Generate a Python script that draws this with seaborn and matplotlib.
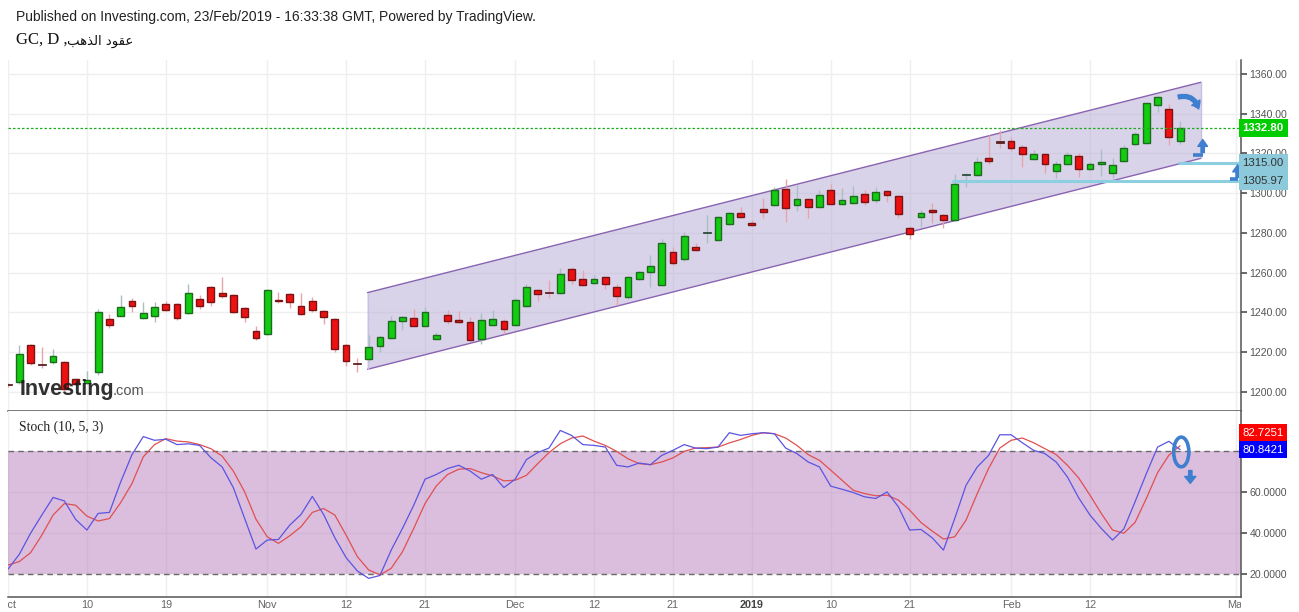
import numpy as np
import pandas as pd
import matplotlib
matplotlib.use("Agg")
import matplotlib.pyplot as plt
import matplotlib.transforms as mtransforms
from matplotlib.patches import Ellipse, FancyArrowPatch
import seaborn as sns

# ---- data (daily gold futures, GC) ----
bar_idx = list(range(105))

opens = [1203.6, 1205.0, 1223.4, 1214.0, 1215.1, 1214.8, 1206.3, 1204.3, 1210.0, 1236.5,
         1238.3, 1245.5, 1237.0, 1238.3, 1244.0, 1244.0, 1239.5, 1246.5, 1252.6, 1249.6,
         1248.6, 1242.0, 1230.4, 1229.0, 1246.2, 1249.0, 1243.3, 1245.5, 1240.5, 1236.6,
         1223.5, 1214.3, 1216.4, 1222.9, 1227.0, 1235.5, 1237.0, 1233.3, 1226.7, 1238.5,
         1236.1, 1235.0, 1226.7, 1233.5, 1235.5, 1233.5, 1243.0, 1251.0, 1250.2, 1249.6,
         1261.7, 1256.6, 1254.6, 1257.6, 1252.6, 1247.5, 1256.6, 1260.2, 1253.6, 1270.2,
         1266.7, 1272.7, 1279.9, 1276.3, 1284.3, 1289.9, 1284.8, 1291.9, 1293.9, 1301.9,
         1293.9, 1296.9, 1292.9, 1301.4, 1294.4, 1294.9, 1299.4, 1296.4, 1300.9, 1298.4,
         1282.3, 1287.8, 1291.4, 1288.9, 1286.3, 1309.2, 1309.0, 1317.6, 1325.8, 1326.1,
         1323.1, 1317.1, 1319.6, 1311.0, 1314.5, 1318.6, 1312.0, 1314.5, 1310.0, 1316.1,
         1324.6, 1325.1, 1344.2, 1342.2, 1326.1]
highs = [1204.5, 1223.5, 1224.0, 1222.5, 1221.5, 1215.5, 1207.0, 1210.4, 1241.7, 1239.0,
         1248.7, 1247.1, 1245.2, 1245.2, 1245.7, 1244.5, 1254.3, 1248.7, 1253.0, 1257.6,
         1249.0, 1242.5, 1233.0, 1251.7, 1250.0, 1249.5, 1249.7, 1247.7, 1241.0, 1237.0,
         1224.0, 1216.8, 1228.6, 1228.0, 1238.1, 1238.0, 1241.7, 1242.8, 1230.0, 1241.2,
         1240.7, 1237.8, 1239.5, 1241.2, 1236.5, 1247.0, 1254.0, 1251.5, 1256.0, 1262.2,
         1263.0, 1261.3, 1259.0, 1258.0, 1254.0, 1258.5, 1261.0, 1268.9, 1276.9, 1272.7,
         1280.4, 1274.8, 1289.0, 1288.3, 1290.5, 1292.9, 1286.5, 1297.4, 1303.1, 1307.1,
         1304.0, 1297.5, 1301.4, 1304.4, 1302.4, 1303.6, 1301.5, 1303.0, 1301.5, 1299.0,
         1283.5, 1291.4, 1295.0, 1289.5, 1309.5, 1310.3, 1318.0, 1329.3, 1331.8, 1328.4,
         1324.0, 1321.5, 1320.0, 1316.0, 1320.5, 1320.0, 1315.5, 1322.2, 1317.5, 1324.0,
         1331.0, 1345.5, 1349.5, 1344.9, 1336.2]
lows = [1202.5, 1204.0, 1213.5, 1212.0, 1214.0, 1200.5, 1203.5, 1204.0, 1208.4, 1232.3,
        1238.0, 1240.0, 1236.5, 1235.0, 1240.5, 1236.3, 1239.0, 1241.8, 1243.3, 1247.4,
        1239.5, 1235.0, 1226.2, 1228.5, 1244.9, 1242.0, 1238.8, 1240.3, 1234.3, 1220.2,
        1213.1, 1210.1, 1215.5, 1220.2, 1226.5, 1231.1, 1233.0, 1233.0, 1226.3, 1234.0,
        1234.8, 1225.5, 1224.0, 1233.0, 1229.0, 1233.0, 1242.5, 1245.7, 1247.0, 1249.0,
        1254.0, 1253.0, 1254.0, 1251.6, 1243.5, 1246.6, 1256.0, 1252.7, 1253.0, 1264.0,
        1266.0, 1270.8, 1274.8, 1276.0, 1284.0, 1287.5, 1283.5, 1287.6, 1293.5, 1285.3,
        1291.2, 1287.3, 1292.5, 1294.0, 1294.0, 1294.5, 1293.9, 1294.9, 1295.4, 1287.3,
        1276.8, 1282.8, 1284.8, 1282.3, 1286.0, 1303.3, 1308.5, 1314.5, 1322.9, 1321.4,
        1313.3, 1316.5, 1310.3, 1307.5, 1314.0, 1308.0, 1311.5, 1308.8, 1307.5, 1315.5,
        1324.0, 1324.8, 1340.7, 1324.1, 1324.6]
closes = [1203.3, 1219.0, 1214.6, 1213.5, 1217.9, 1201.5, 1203.8, 1205.8, 1240.0, 1233.8,
          1242.5, 1243.0, 1239.5, 1242.5, 1241.0, 1237.0, 1249.6, 1243.3, 1245.0, 1248.4,
          1240.0, 1237.8, 1227.0, 1251.0, 1245.5, 1245.0, 1239.0, 1241.0, 1237.8, 1221.4,
          1215.6, 1213.9, 1222.4, 1227.4, 1235.5, 1237.5, 1233.3, 1240.0, 1228.4, 1235.5,
          1235.0, 1226.0, 1236.0, 1236.5, 1231.8, 1246.0, 1252.6, 1249.0, 1249.9, 1259.1,
          1256.1, 1253.6, 1256.6, 1254.0, 1248.0, 1258.0, 1260.2, 1263.2, 1274.8, 1264.7,
          1278.3, 1271.2, 1280.1, 1287.8, 1289.9, 1287.8, 1283.8, 1290.7, 1301.4, 1292.4,
          1296.9, 1292.9, 1298.9, 1294.4, 1296.4, 1298.4, 1295.4, 1300.4, 1298.9, 1289.4,
          1279.3, 1289.9, 1290.4, 1286.3, 1304.4, 1309.5, 1315.5, 1316.1, 1325.5, 1322.6,
          1319.6, 1319.6, 1314.5, 1314.5, 1319.1, 1312.0, 1314.5, 1315.5, 1314.0, 1322.6,
          1329.6, 1345.2, 1348.3, 1328.1, 1332.8]

stoch_k = [22.5, 29.7, 40.0, 48.9, 57.5, 55.8, 46.8, 41.6, 49.7, 50.2,
           65.1, 78.4, 87.2, 85.4, 85.9, 83.3, 83.7, 82.9, 76.9, 72.4,
           62.2, 47.2, 32.3, 36.7, 37.0, 44.0, 49.2, 58.0, 49.2, 37.8,
           28.1, 21.6, 18.0, 19.4, 31.8, 42.4, 53.7, 66.4, 68.7, 71.6,
           73.2, 70.4, 66.4, 68.7, 62.3, 66.4, 76.0, 79.4, 81.6, 90.2,
           87.8, 83.3, 82.9, 82.1, 73.2, 72.4, 74.3, 73.5, 78.0, 80.5,
           83.3, 81.6, 81.3, 82.1, 89.1, 87.8, 88.6, 89.1, 88.6, 81.6,
           78.9, 74.8, 72.4, 63.0, 61.5, 59.9, 57.8, 57.0, 60.2, 52.9,
           41.6, 41.9, 37.8, 31.8, 47.2, 63.4, 72.4, 78.0, 88.1, 88.1,
           84.2, 80.5, 78.9, 74.8, 67.5, 57.3, 48.9, 42.4, 36.7, 42.1,
           55.4, 69.1, 82.1, 84.9, 80.8421]
stoch_d = [24.5, 26.2, 30.5, 39.1, 48.9, 54.5, 53.7, 48.4, 46.0, 47.2,
           55.0, 64.3, 77.3, 83.3, 86.2, 85.0, 84.6, 83.3, 81.3, 77.7,
           70.3, 60.2, 46.9, 38.3, 35.1, 38.8, 43.2, 50.2, 52.1, 48.9,
           39.1, 28.6, 22.1, 19.7, 22.9, 31.0, 42.4, 54.5, 63.1, 68.7,
           71.3, 71.6, 69.6, 68.0, 65.6, 65.9, 68.3, 74.0, 79.4, 83.7,
           86.5, 87.5, 85.0, 82.9, 80.0, 76.4, 74.0, 73.5, 74.8, 76.8,
           80.0, 81.6, 81.8, 82.1, 84.1, 85.8, 87.8, 89.1, 88.6, 86.5,
           82.9, 78.4, 75.6, 70.8, 65.9, 61.0, 59.4, 58.3, 58.6, 56.2,
           51.3, 45.3, 41.1, 37.2, 38.3, 46.4, 59.4, 71.6, 81.6, 85.4,
           86.5, 84.2, 81.3, 78.4, 73.2, 67.0, 58.6, 49.7, 41.6, 40.0,
           45.3, 57.0, 69.6, 78.1, 82.7251]

# date ticks as bar numbers
tick_pos = [0, 7, 14, 23, 30, 37, 45, 52, 59, 66, 73, 80, 89, 96, 109]
tick_labels = ["Oct", "10", "19", "Nov", "12", "21", "Dec", "12", "21", "2019",
               "10", "21", "Feb", "12", "Mar"]

# drawn channel and support levels
channel_x = [31.9, 105.85]
channel_upper = [1249.9, 1355.8]
channel_lower = [1211.3, 1317.5]
levels = [1315.00, 1305.97]
level_start = [103.8, 83.8]

df = pd.DataFrame({"bar": bar_idx, "open": opens, "high": highs, "low": lows,
                   "close": closes, "k": stoch_k, "d": stoch_d})

# ---- style ----
sns.set_theme(style="white")
plt.rcParams["font.family"] = ["Liberation Sans", "DejaVu Sans"]

W, H = 1299, 612
fig = plt.figure(figsize=(W / 100, H / 100), dpi=100)
left, right = 8 / W, 1241 / W
ax1 = fig.add_axes([left, 1 - 411 / H, right - left, (411 - 60) / H])
ax2 = fig.add_axes([left, 1 - 597 / H, right - left, (597 - 411) / H], sharex=ax1)

grid_c = "#efefef"
axis_c = "#555555"
for ax in (ax1, ax2):
    ax.set_facecolor("white")
    for s in ("top", "left"):
        ax.spines[s].set_visible(False)
    for s in ("right", "bottom"):
        ax.spines[s].set_color(axis_c)
        ax.spines[s].set_linewidth(1.1)
    ax.yaxis.tick_right()
    ax.set_xticks(tick_pos)
    ax.grid(True, color=grid_c, lw=1)
    ax.set_axisbelow(True)

ax1.set_xlim(0.18, 109.4)
ax1.set_ylim(1190.3, 1367.0)
ax2.set_ylim(8.9, 99.7)

# ---- channel ----
ax1.fill([channel_x[0], channel_x[1], channel_x[1], channel_x[0]],
         [channel_lower[0], channel_lower[1], channel_upper[1], channel_upper[0]],
         fc="#b5a9d5", alpha=0.5, ec="none", zorder=1)
ax1.plot(channel_x, channel_upper, color="#8a63b0", lw=1, zorder=2)
ax1.plot(channel_x, channel_lower, color="#8a63b0", lw=1, zorder=2)
for i in range(2):
    ax1.plot([channel_x[i], channel_x[i]], [channel_lower[i], channel_upper[i]],
             color="#c9bfe0", lw=1, zorder=2)

# ---- candles ----
up = df[df["close"] >= df["open"]]
dn = df[df["close"] < df["open"]]
ax1.vlines(up["bar"], up["low"], up["high"], color="#a9bfc2", lw=1, zorder=3)
ax1.vlines(dn["bar"], dn["low"], dn["high"], color="#e8a4aa", lw=1, zorder=3)

for sub, fc, ec, dark in ((up, "#11cc11", "#1d6b1d", "#2f4f3f"),
                          (dn, "#ee1111", "#7a1414", "#5b2323")):
    body = (sub["close"] - sub["open"]).abs()
    doji = body < 0.6
    bottom = sub[["open", "close"]].min(axis=1)
    norm = sub[~doji]
    ax1.bar(norm["bar"], body[~doji], bottom=bottom[~doji], width=0.6,
            color=fc, edgecolor=ec, linewidth=1, zorder=4)
    dj = sub[doji]
    ax1.bar(dj["bar"], 0.6, bottom=bottom[doji] - 0.1, width=0.7,
            color=dark, edgecolor=dark, linewidth=0.6, zorder=4)

# ---- horizontal levels ----
last_close = closes[-1]
ax1.axhline(last_close, color="#1faa1f", ls=(0, (2, 1.6)), lw=0.9, zorder=5)
for lv, st in zip(levels, level_start):
    ax1.plot([st, 109.4], [lv, lv], color="#8ccfe0", lw=2.2, zorder=5,
             solid_capstyle="butt")

# price axis
ax1.set_yticks(np.arange(1200, 1361, 20))
ax1.set_yticklabels([f"{v:.2f}" for v in np.arange(1200, 1361, 20)])
ax1.tick_params(axis="y", which="both", right=True, length=4, color=axis_c,
                labelsize=7.6, labelcolor=axis_c, pad=2)
ax1.tick_params(axis="x", length=0, labelbottom=False)

# right side value boxes
tr1 = mtransforms.blended_transform_factory(ax1.transAxes, ax1.transData)
box_kw = dict(transform=tr1, va="center", ha="left", fontsize=8.2, zorder=10)
ax1.text(1.0012, last_close, f"{last_close:.2f}", color="white", fontweight="bold",
         bbox=dict(boxstyle="square,pad=0.34", fc="#00cc00", ec="none"), **box_kw)
for lv in levels:
    ax1.text(1.0012, lv, f"{lv:.2f}", color="#333333",
             bbox=dict(boxstyle="square,pad=0.34", fc="#8ccadb", ec="none"), **box_kw)

# ---- blue hand-drawn marks ----
blue = "#3f7fcf"
ax1.add_patch(FancyArrowPatch((103.6, 1348.0), (105.7, 1341.0),
                              connectionstyle="arc3,rad=-0.55",
                              arrowstyle="simple,head_length=5,head_width=7,tail_width=2.8",
                              color=blue, zorder=8))
for (fx, sx, y0, y1) in ((105.1, 106.0, 1319.4, 1328.4), (108.4, 109.1, 1306.9, 1315.6)):
    ax1.plot([fx, sx], [y0, y0], color=blue, lw=2.6, zorder=8, clip_on=False,
             solid_capstyle="butt")
    ax1.add_patch(FancyArrowPatch((sx, y0 - 0.4), (sx, y1),
                                  arrowstyle="simple,head_length=5,head_width=7,tail_width=2.4",
                                  color=blue, zorder=8, clip_on=False))

# ---- stochastic panel ----
ax2.axhspan(20, 80, fc="#b97dbf", alpha=0.5, ec="none", zorder=1)
ax2.axhline(80, color="#6a6a6a", ls=(0, (4, 3)), lw=1, zorder=2)
ax2.axhline(20, color="#6a6a6a", ls=(0, (4, 3)), lw=1, zorder=2)
sns.lineplot(x=df["bar"], y=df["d"], ax=ax2, color="#e05050", lw=0.9, zorder=4)
sns.lineplot(x=df["bar"], y=df["k"], ax=ax2, color="#5a55e0", lw=0.9, zorder=5)
ax2.set_xlabel("")
ax2.set_ylabel("")
ax2.set_yticks([20, 40, 60])
ax2.set_yticklabels(["20.0000", "40.0000", "60.0000"])
ax2.tick_params(axis="y", right=True, length=4, color=axis_c, labelsize=7.6,
                labelcolor=axis_c, pad=2)
ax2.set_xticks(tick_pos)
ax2.set_xticklabels(tick_labels)
ax2.tick_params(axis="x", length=0, labelsize=7.8, labelcolor="#666666", pad=2)
for lab in ax2.get_xticklabels():
    lab.set_fontfamily(["Liberation Sans Narrow", "Liberation Sans", "DejaVu Sans"])
    if lab.get_text() == "2019":
        lab.set_fontweight("bold")
        lab.set_color("#444444")

tr2 = mtransforms.blended_transform_factory(ax2.transAxes, ax2.transData)
ax2.annotate(f"{stoch_d[-1]:.4f}", xy=(1.0012, stoch_d[-1]), xycoords=tr2,
             xytext=(0, 13), textcoords="offset pixels", va="center", ha="left",
             color="white", fontsize=8.2, zorder=10, annotation_clip=False,
             bbox=dict(boxstyle="square,pad=0.3", fc="#ff0000", ec="none"))
ax2.text(1.0012, stoch_k[-1], f"{stoch_k[-1]:.4f}", transform=tr2, va="center",
         ha="left", color="white", fontsize=8.2, zorder=10,
         bbox=dict(boxstyle="square,pad=0.3", fc="#0000ff", ec="none"))

ax2.add_patch(Ellipse((104.1, 79.7), 1.35, 14.5, fill=False, ec=blue, lw=2.6, zorder=8))
ax2.add_patch(FancyArrowPatch((104.9, 72.0), (104.9, 63.0),
                              arrowstyle="simple,head_length=5,head_width=8,tail_width=2.4",
                              color=blue, zorder=8))

# ---- texts ----
fig.text(16 / W, 1 - 17 / H, "Published on Investing.com, 23/Feb/2019 - 16:33:38 GMT, "
         "Powered by TradingView.", fontsize=10, color="#222222", va="center")
fig.text(16 / W, 1 - 40 / H, "GC, D ,", fontsize=12, color="#111111", va="center",
         family=["Liberation Serif", "DejaVu Sans"])
fig.text(67 / W, 1 - 41 / H, "\ufe90\ufeeb\ufeac\ufedf\ufe8d \ufea9\ufeee\ufed8\ufecb",
         fontsize=9.5, color="#111111", va="center", family=["DejaVu Sans"])
fig.text(19 / W, 1 - 427 / H, "Stoch (10, 5, 3)", fontsize=9.8, color="#222222",
         va="center", family=["Liberation Serif", "DejaVu Serif"])
fig.text(20 / W, 1 - 389 / H, "Investing", fontsize=15.5, fontweight="bold",
         color="#1a1a1a", va="center", alpha=0.9)
fig.text(113 / W, 1 - 391 / H, ".com", fontsize=10.5, color="#444444", va="center",
         alpha=0.9)

# clip the partial month labels at the panel edges
fig.canvas.draw()
clip = mtransforms.TransformedBbox(
    mtransforms.Bbox([[left, 0], [right, 1]]), fig.transFigure)
for lab in ax2.get_xticklabels():
    lab.set_clip_on(True)
    lab.set_clip_box(clip)

fig.savefig("out.png", dpi=100)
